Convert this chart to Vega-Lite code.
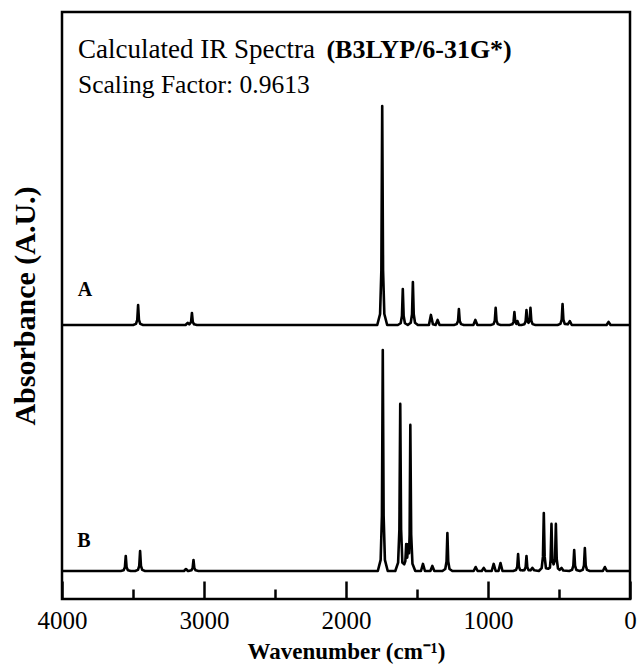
{
  "$schema": "https://vega.github.io/schema/vega-lite/v6.json",
  "width": 568,
  "height": 587,
  "autosize": {"type": "none"},
  "padding": {"left": 62, "top": 12, "right": 10, "bottom": 71},
  "background": "white",
  "config": {"view": {"stroke": "black", "strokeWidth": 2.5}, "font": "Liberation Serif"},
  "encoding": {
    "x": {
      "field": "w",
      "type": "quantitative",
      "scale": {"domain": [4000, 0], "nice": false, "zero": false},
      "title": "Wavenumber (cm⁻¹)",
      "axis": {
        "values": [4000, 3500, 3000, 2500, 2000, 1500, 1000, 500, 0],
        "format": "d",
        "labelExpr": "datum.value % 1000 === 0 ? datum.label : ''",
        "tickSize": {"condition": {"test": "datum.value % 1000 === 0", "value": -18}, "value": -10},
        "tickWidth": 2.5,
        "tickColor": "black",
        "domain": false,
        "grid": false,
        "labelFont": "Liberation Serif",
        "labelFontSize": 25,
        "labelColor": "black",
        "labelPadding": 27,
        "labelOverlap": false,
        "labelFlush": false,
        "labelBound": false,
        "titleFont": "Liberation Serif",
        "titleFontSize": 23,
        "titleFontWeight": "bold",
        "titleColor": "black",
        "titlePadding": -1
      }
    }
  },
  "layer": [
    {
      "encoding": {
        "y": {
          "field": "a",
          "type": "quantitative",
          "scale": {"domain": [-125.1, 142.9], "nice": false, "zero": false},
          "axis": {
            "title": "Absorbance (A.U.)",
            "ticks": false,
            "labels": false,
            "domain": false,
            "grid": false,
            "titleFont": "Liberation Serif",
            "titleFontSize": 30,
            "titleFontWeight": "bold",
            "titleColor": "black",
            "titlePadding": 22
          }
        }
      },
      "layer": [
        {
          "data": {"values": [
            {"w": 4000, "a": 0},
            {"w": 3499, "a": 0}, {"w": 3479, "a": 0.5}, {"w": 3470, "a": 2.3}, {"w": 3464, "a": 9.1}, {"w": 3458, "a": 2.3}, {"w": 3449, "a": 0.5}, {"w": 3429, "a": 0},
            {"w": 3130, "a": 0}, {"w": 3115, "a": 1.0}, {"w": 3104, "a": 0.3}, {"w": 3091, "a": 1.4}, {"w": 3085, "a": 5.5}, {"w": 3079, "a": 1.4}, {"w": 3070, "a": 0.3}, {"w": 3050, "a": 0},
            {"w": 1780, "a": 0}, {"w": 1760, "a": 5}, {"w": 1751, "a": 25}, {"w": 1745, "a": 100}, {"w": 1739, "a": 25}, {"w": 1730, "a": 5}, {"w": 1710, "a": 0},
            {"w": 1635, "a": 0}, {"w": 1615, "a": 0.8}, {"w": 1606, "a": 4.1}, {"w": 1600, "a": 16.4}, {"w": 1594, "a": 4.1}, {"w": 1585, "a": 0.8}, {"w": 1565, "a": 0},
            {"w": 1544, "a": 1.0}, {"w": 1535, "a": 4.9}, {"w": 1529, "a": 19.6}, {"w": 1523, "a": 4.9}, {"w": 1514, "a": 1.0}, {"w": 1494, "a": 0},
            {"w": 1416, "a": 0}, {"w": 1402, "a": 4.6}, {"w": 1388, "a": 0.3}, {"w": 1369, "a": 0}, {"w": 1355, "a": 2.3}, {"w": 1341, "a": 0},
            {"w": 1240, "a": 0}, {"w": 1220, "a": 0.4}, {"w": 1211, "a": 1.8}, {"w": 1205, "a": 7.3}, {"w": 1199, "a": 1.8}, {"w": 1190, "a": 0.4}, {"w": 1170, "a": 0},
            {"w": 1103, "a": 0}, {"w": 1089, "a": 2.3}, {"w": 1075, "a": 0},
            {"w": 981, "a": 0}, {"w": 961, "a": 0.4}, {"w": 952, "a": 2.0}, {"w": 946, "a": 7.8}, {"w": 940, "a": 2.0}, {"w": 931, "a": 0.4}, {"w": 911, "a": 0},
            {"w": 849, "a": 0}, {"w": 829, "a": 0.3}, {"w": 820, "a": 1.5}, {"w": 814, "a": 5.9}, {"w": 808, "a": 1.5}, {"w": 800, "a": 0.5}, {"w": 793, "a": 1.8}, {"w": 782, "a": 0},
            {"w": 764, "a": 0}, {"w": 744, "a": 0.3}, {"w": 735, "a": 1.7}, {"w": 729, "a": 6.8}, {"w": 723, "a": 1.7}, {"w": 715, "a": 1.0}, {"w": 707, "a": 2.0}, {"w": 701, "a": 7.8}, {"w": 695, "a": 2.0}, {"w": 686, "a": 0.4}, {"w": 666, "a": 0},
            {"w": 510, "a": 0}, {"w": 490, "a": 0.5}, {"w": 481, "a": 2.4}, {"w": 475, "a": 9.6}, {"w": 469, "a": 2.4}, {"w": 460, "a": 0.5}, {"w": 438, "a": 0.3}, {"w": 424, "a": 1.8}, {"w": 410, "a": 0},
            {"w": 165, "a": 0}, {"w": 151, "a": 1.4}, {"w": 137, "a": 0},
            {"w": 0, "a": 0}
          ]},
          "mark": {"type": "line", "color": "black", "strokeWidth": 2.6, "strokeJoin": "round", "clip": true}
        },
        {
          "data": {"values": [{"w": 3838, "a": 16, "t": "A"}]},
          "mark": {"type": "text", "font": "Liberation Serif", "fontSize": 20, "fontWeight": "bold", "align": "center", "baseline": "middle", "color": "black"},
          "encoding": {"text": {"field": "t"}}
        },
        {
          "data": {"values": [{"w": 3887, "a": 121.9, "t": "Calculated IR Spectra"}]},
          "mark": {"type": "text", "font": "Liberation Serif", "fontSize": 27, "align": "left", "baseline": "alphabetic", "color": "black"},
          "encoding": {"text": {"field": "t"}}
        },
        {
          "data": {"values": [{"w": 3887, "a": 105.9, "t": "Scaling Factor: 0.9613"}]},
          "mark": {"type": "text", "font": "Liberation Serif", "fontSize": 25.5, "align": "left", "baseline": "alphabetic", "color": "black"},
          "encoding": {"text": {"field": "t"}}
        },
        {
          "data": {"values": [{"w": 2138, "a": 121.9, "t": "(B3LYP/6-31G*)"}]},
          "mark": {"type": "text", "font": "Liberation Serif", "fontSize": 26, "fontWeight": "bold", "align": "left", "baseline": "alphabetic", "color": "black"},
          "encoding": {"text": {"field": "t"}}
        }
      ]
    },
    {
      "encoding": {
        "y": {
          "field": "a",
          "type": "quantitative",
          "scale": {"domain": [-12.67, 252.9], "nice": false, "zero": false},
          "axis": null
        }
      },
      "layer": [
        {
          "data": {"values": [
            {"w": 4000, "a": 0},
            {"w": 3586, "a": 0}, {"w": 3566, "a": 0.3}, {"w": 3557, "a": 1.7}, {"w": 3551, "a": 6.8}, {"w": 3545, "a": 1.7}, {"w": 3536, "a": 0.3}, {"w": 3516, "a": 0},
            {"w": 3485, "a": 0}, {"w": 3465, "a": 0.5}, {"w": 3456, "a": 2.3}, {"w": 3450, "a": 9.0}, {"w": 3444, "a": 2.3}, {"w": 3435, "a": 0.5}, {"w": 3415, "a": 0},
            {"w": 3141, "a": 0}, {"w": 3127, "a": 0.9}, {"w": 3113, "a": 0}, {"w": 3109, "a": 0}, {"w": 3089, "a": 0.3}, {"w": 3080, "a": 1.3}, {"w": 3074, "a": 5.0}, {"w": 3068, "a": 1.3}, {"w": 3059, "a": 0.3}, {"w": 3039, "a": 0},
            {"w": 1776, "a": 0}, {"w": 1756, "a": 5}, {"w": 1747, "a": 25}, {"w": 1741, "a": 100}, {"w": 1735, "a": 25}, {"w": 1726, "a": 5}, {"w": 1706, "a": 0},
            {"w": 1653, "a": 0}, {"w": 1633, "a": 3.8}, {"w": 1624, "a": 18.9}, {"w": 1618, "a": 75.6}, {"w": 1612, "a": 18.9}, {"w": 1603, "a": 3.8}, {"w": 1590, "a": 3.0}, {"w": 1582, "a": 4.5}, {"w": 1576, "a": 12.2}, {"w": 1569, "a": 6.0}, {"w": 1561, "a": 12.2}, {"w": 1556, "a": 8.0}, {"w": 1552, "a": 16.5}, {"w": 1547, "a": 66.1}, {"w": 1541, "a": 16.5}, {"w": 1532, "a": 3.3}, {"w": 1512, "a": 0},
            {"w": 1472, "a": 0}, {"w": 1458, "a": 3.2}, {"w": 1444, "a": 0},
            {"w": 1406, "a": 0}, {"w": 1392, "a": 2.3}, {"w": 1378, "a": 0},
            {"w": 1321, "a": 0}, {"w": 1301, "a": 0.9}, {"w": 1292, "a": 4.3}, {"w": 1286, "a": 17.2}, {"w": 1280, "a": 4.3}, {"w": 1271, "a": 0.9}, {"w": 1251, "a": 0},
            {"w": 1101, "a": 0}, {"w": 1087, "a": 1.8}, {"w": 1073, "a": 0},
            {"w": 1044, "a": 0}, {"w": 1030, "a": 1.4}, {"w": 1016, "a": 0},
            {"w": 974, "a": 0}, {"w": 960, "a": 3.2}, {"w": 946, "a": 0}, {"w": 926, "a": 0}, {"w": 912, "a": 3.6}, {"w": 898, "a": 0},
            {"w": 823, "a": 0}, {"w": 803, "a": 0.4}, {"w": 794, "a": 1.9}, {"w": 788, "a": 7.7}, {"w": 782, "a": 1.9}, {"w": 773, "a": 0.4}, {"w": 759, "a": 0.3}, {"w": 744, "a": 0.4}, {"w": 735, "a": 1.7}, {"w": 729, "a": 6.8}, {"w": 723, "a": 1.7}, {"w": 714, "a": 0.4}, {"w": 700, "a": 0.3}, {"w": 688, "a": 1.4}, {"w": 674, "a": 0.3},
            {"w": 642, "a": 0}, {"w": 622, "a": 1.3}, {"w": 613, "a": 6.5}, {"w": 607, "a": 26.2}, {"w": 601, "a": 6.5}, {"w": 592, "a": 1.3}, {"w": 575, "a": 1.0}, {"w": 564, "a": 1.5}, {"w": 559, "a": 5.3}, {"w": 553, "a": 21.3}, {"w": 547, "a": 5.3}, {"w": 538, "a": 3.0}, {"w": 528, "a": 5.3}, {"w": 522, "a": 21.3}, {"w": 516, "a": 5.3}, {"w": 507, "a": 1.1}, {"w": 495, "a": 0.5}, {"w": 482, "a": 1.4}, {"w": 470, "a": 0.2},
            {"w": 428, "a": 0}, {"w": 408, "a": 0.5}, {"w": 399, "a": 2.4}, {"w": 393, "a": 9.5}, {"w": 387, "a": 2.4}, {"w": 378, "a": 0.5}, {"w": 353, "a": 0},
            {"w": 333, "a": 0.5}, {"w": 324, "a": 2.6}, {"w": 318, "a": 10.4}, {"w": 312, "a": 2.6}, {"w": 303, "a": 0.5}, {"w": 283, "a": 0},
            {"w": 191, "a": 0}, {"w": 177, "a": 1.8}, {"w": 163, "a": 0},
            {"w": 0, "a": 0}
          ]},
          "mark": {"type": "line", "color": "black", "strokeWidth": 2.6, "strokeJoin": "round", "clip": true}
        },
        {
          "data": {"values": [{"w": 3845, "a": 13.6, "t": "B"}]},
          "mark": {"type": "text", "font": "Liberation Serif", "fontSize": 20, "fontWeight": "bold", "align": "center", "baseline": "middle", "color": "black"},
          "encoding": {"text": {"field": "t"}}
        }
      ]
    }
  ],
  "resolve": {"scale": {"y": "independent"}, "axis": {"y": "independent"}}
}
